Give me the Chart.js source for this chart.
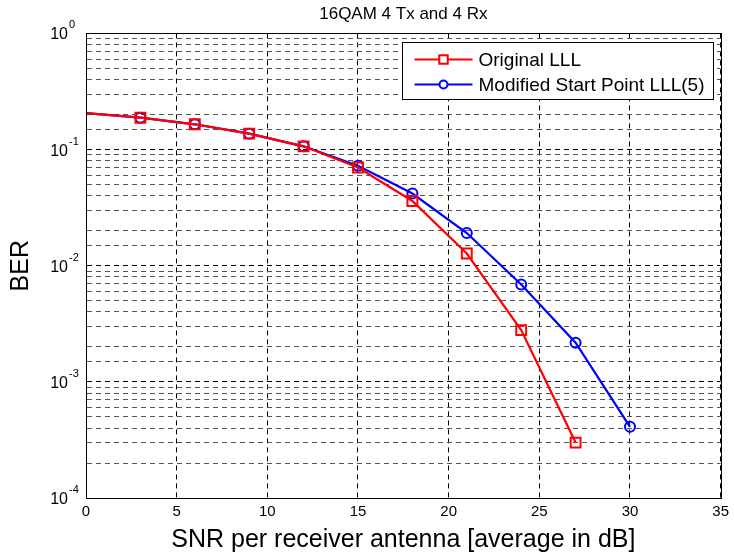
<!DOCTYPE html>
<html>
<head>
<meta charset="utf-8">
<title>16QAM 4 Tx and 4 Rx</title>
<script src="https://cdn.jsdelivr.net/npm/chart.js@4/dist/chart.umd.min.js"></script>
<style>
  html, body { margin: 0; padding: 0; background: #fff; }
  #wrap { width: 734px; height: 555px; position: relative; }
</style>
</head>
<body>
<div id="wrap"><canvas id="berChart"></canvas></div>
<script>
// values
const snrOriginal = [0, 3, 6, 9, 12, 15, 18, 21, 24, 27];
const berOriginal = [0.206, 0.188, 0.165, 0.137, 0.1066, 0.070, 0.0361, 0.01273, 0.00279, 0.000300];
const snrModified = [0, 3, 6, 9, 12, 15, 18, 21, 24, 27, 30];
const berModified = [0.206, 0.188, 0.165, 0.137, 0.1066, 0.0725, 0.0418, 0.0191, 0.00689, 0.00217, 0.00041];
const seriesLabels = ['Original LLL', 'Modified Start Point LLL(5)'];
const xTicks = [0, 5, 10, 15, 20, 25, 30, 35];
const yDecades = [-4, -3, -2, -1, 0];

const FONT = '"Liberation Sans", Arial, Helvetica, sans-serif';

function toPoints(xs, ys) {
    return xs.map(function(x, i) { return { x: x, y: ys[i] }; });
}

function isDecade(v) {
    const l = Math.log10(v);
    return Math.abs(l - Math.round(l)) < 1e-9;
}

// no marker drawn at SNR = 0 in the original figure
function markerRadius(n, r) {
    return Array.from({ length: n }, function(_, i) { return i === 0 ? 0 : r; });
}

// box round the axes, like MATLAB's "box on"
const boxPlugin = {
    id: 'boxPlugin',
    afterDatasetsDraw: function(chart) {
        const a = chart.chartArea;
        const ctx = chart.ctx;
        ctx.save();
        ctx.strokeStyle = '#000';
        ctx.lineWidth = 1;
        ctx.strokeRect(Math.round(a.left) + 0.5, Math.round(a.top) + 0.5,
            Math.round(a.right - a.left), Math.round(a.bottom - a.top));
        ctx.restore();
    }
};

// y tick labels as 10 with a raised exponent
const powerLabels = {
    id: 'powerLabels',
    afterDraw: function(chart) {
        const ctx = chart.ctx;
        const yScale = chart.scales.y;
        const xRight = yScale.right - 18;
        ctx.save();
        ctx.fillStyle = '#000';
        yDecades.forEach(function(d) {
            const y = yScale.getPixelForValue(Math.pow(10, d));
            ctx.font = '16px ' + FONT;
            ctx.textAlign = 'right';
            ctx.textBaseline = 'alphabetic';
            ctx.fillText('10', xRight, y + 6);
            ctx.font = '11px ' + FONT;
            ctx.textAlign = 'left';
            ctx.fillText(String(d), xRight + 1, y - 5);
        });
        ctx.restore();
    }
};

// legend drawn inside the axes, top right
const insideLegend = {
    id: 'insideLegend',
    afterDraw: function(chart) {
        const ctx = chart.ctx;
        const a = chart.chartArea;
        const boxW = 311, boxH = 57;
        const bx = Math.round(a.right - 8 - boxW) + 0.5;
        const by = Math.round(a.top + 9) + 0.5;
        ctx.save();
        ctx.fillStyle = '#fff';
        ctx.fillRect(bx, by, boxW, boxH);
        ctx.strokeStyle = '#000';
        ctx.lineWidth = 1;
        ctx.strokeRect(bx, by, boxW, boxH);
        chart.data.datasets.forEach(function(ds, i) {
            const y = by + 17 + i * 25;
            const x0 = bx + 12, x1 = bx + 70;
            ctx.strokeStyle = ds.borderColor;
            ctx.lineWidth = 2;
            ctx.beginPath();
            ctx.moveTo(x0, y);
            ctx.lineTo(x1, y);
            ctx.stroke();
            ctx.fillStyle = '#fff';
            Chart.helpers.drawPoint(ctx, {
                pointStyle: ds.pointStyle,
                radius: ds.pointStyle === 'rect' ? 6 : 4,
                borderWidth: 2,
                rotation: 0
            }, (x0 + x1) / 2, y);
            ctx.fillStyle = '#000';
            ctx.font = '19px ' + FONT;
            ctx.textBaseline = 'middle';
            ctx.textAlign = 'left';
            ctx.fillText(ds.label, x1 + 6, y + 1);
        });
        ctx.restore();
    }
};

const berCtx = document.getElementById('berChart').getContext('2d');

const berChart = new Chart(berCtx, {
    type: 'line',
    data: {
        datasets: [{
            label: seriesLabels[0],
            data: toPoints(snrOriginal, berOriginal),
            borderColor: '#ff0000',
            backgroundColor: 'rgba(0,0,0,0)',
            borderWidth: 2.2,
            pointStyle: 'rect',
            pointRadius: markerRadius(snrOriginal.length, 7),
            pointBorderWidth: 2,
            pointBorderColor: '#ff0000',
            pointBackgroundColor: 'rgba(0,0,0,0)',
            tension: 0
        }, {
            label: seriesLabels[1],
            data: toPoints(snrModified, berModified),
            borderColor: '#0000ff',
            backgroundColor: 'rgba(0,0,0,0)',
            borderWidth: 2.2,
            pointStyle: 'circle',
            pointRadius: markerRadius(snrModified.length, 5),
            pointBorderWidth: 2,
            pointBorderColor: '#0000ff',
            pointBackgroundColor: 'rgba(0,0,0,0)',
            tension: 0
        }]
    },
    options: {
        responsive: true,
        maintainAspectRatio: false,
        animation: false,
        layout: { padding: { left: 0, right: 12, top: 0, bottom: 0 } },
        scales: {
            x: {
                type: 'linear',
                min: xTicks[0],
                max: xTicks[xTicks.length - 1],
                afterBuildTicks: function(scale) {
                    scale.ticks = xTicks.map(function(v) { return { value: v }; });
                },
                ticks: {
                    color: '#000',
                    font: { family: FONT, size: 15 },
                    padding: 5,
                    maxRotation: 0
                },
                grid: {
                    color: '#000',
                    lineWidth: 1,
                    drawTicks: false
                },
                border: { display: true, color: '#000', width: 1, dash: [5, 4] },
                title: {
                    display: true,
                    text: 'SNR per receiver antenna [average in dB]',
                    color: '#000',
                    font: { family: FONT, size: 25, lineHeight: 1.2 },
                    padding: { top: 0, bottom: 0 }
                },
                afterFit: function(scale) { scale.height = 57; }
            },
            y: {
                type: 'logarithmic',
                min: Math.pow(10, yDecades[0]),
                max: Math.pow(10, yDecades[yDecades.length - 1]),
                ticks: {
                    display: false,
                    autoSkip: false
                },
                grid: {
                    color: function(c) {
                        return c.tick && isDecade(c.tick.value) ? '#000' : '#555';
                    },
                    lineWidth: 1,
                    drawTicks: false
                },
                border: { display: true, color: '#000', width: 1, dash: [5, 4] },
                title: {
                    display: true,
                    text: 'BER',
                    color: '#000',
                    font: { family: FONT, size: 25, lineHeight: 1.2 },
                    padding: { top: 6, bottom: 0 }
                },
                afterFit: function(scale) { scale.width = 86; }
            }
        },
        plugins: {
            legend: { display: false },
            tooltip: { enabled: false },
            title: {
                display: true,
                fullSize: false,
                text: '16QAM 4 Tx and 4 Rx',
                color: '#000',
                font: { family: FONT, size: 17, weight: 'normal', lineHeight: 1.2 },
                padding: { top: 4, bottom: 9 }
            }
        }
    },
    plugins: [boxPlugin, powerLabels, insideLegend]
});
</script>
</body>
</html>
